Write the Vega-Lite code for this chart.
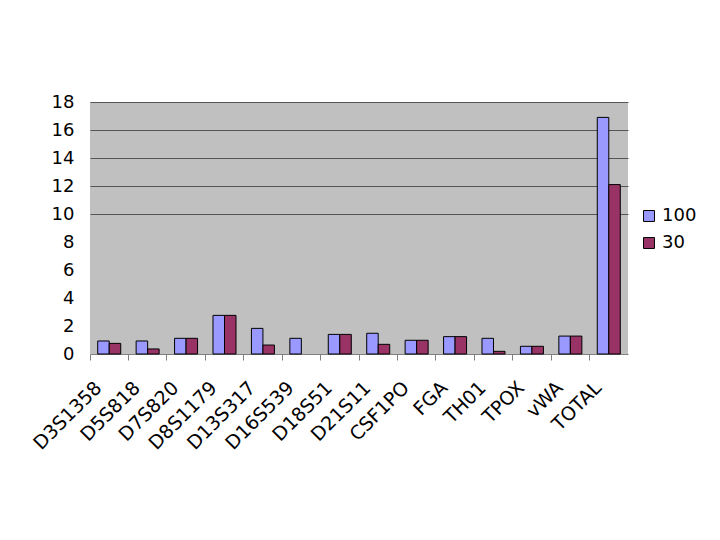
{
  "$schema": "https://vega.github.io/schema/vega-lite/v6.json",
  "autosize": "none",
  "width": 538,
  "height": 252,
  "padding": {"left": 90, "top": 102, "right": 92, "bottom": 186},
  "background": "white",
  "config": {"view": {"fill": "#C0C0C0", "stroke": null}, "font": "DejaVu Sans"},
  "data": {"values": [
    {"locus": "D3S1358", "series": "100", "value": 0.93},
    {"locus": "D3S1358", "series": "30", "value": 0.76},
    {"locus": "D5S818", "series": "100", "value": 0.93},
    {"locus": "D5S818", "series": "30", "value": 0.36},
    {"locus": "D7S820", "series": "100", "value": 1.12},
    {"locus": "D7S820", "series": "30", "value": 1.12},
    {"locus": "D8S1179", "series": "100", "value": 2.76},
    {"locus": "D8S1179", "series": "30", "value": 2.76},
    {"locus": "D13S317", "series": "100", "value": 1.83},
    {"locus": "D13S317", "series": "30", "value": 0.64},
    {"locus": "D16S539", "series": "100", "value": 1.12},
    {"locus": "D18S51", "series": "100", "value": 1.4},
    {"locus": "D18S51", "series": "30", "value": 1.4},
    {"locus": "D21S11", "series": "100", "value": 1.48},
    {"locus": "D21S11", "series": "30", "value": 0.69},
    {"locus": "CSF1PO", "series": "100", "value": 0.98},
    {"locus": "CSF1PO", "series": "30", "value": 0.98},
    {"locus": "FGA", "series": "100", "value": 1.24},
    {"locus": "FGA", "series": "30", "value": 1.24},
    {"locus": "TH01", "series": "100", "value": 1.12},
    {"locus": "TH01", "series": "30", "value": 0.19},
    {"locus": "TPOX", "series": "100", "value": 0.55},
    {"locus": "TPOX", "series": "30", "value": 0.55},
    {"locus": "vWA", "series": "100", "value": 1.28},
    {"locus": "vWA", "series": "30", "value": 1.28},
    {"locus": "TOTAL", "series": "100", "value": 16.9},
    {"locus": "TOTAL", "series": "30", "value": 12.1}
  ]},
  "mark": {"type": "bar", "stroke": "black", "strokeWidth": 1},
  "encoding": {
    "x": {
      "field": "locus", "type": "nominal",
      "sort": ["D3S1358","D5S818","D7S820","D8S1179","D13S317","D16S539","D18S51","D21S11","CSF1PO","FGA","TH01","TPOX","vWA","TOTAL"],
      "scale": {"paddingInner": 0, "paddingOuter": 0},
      "axis": {"title": null, "labelAngle": -45, "labelAlign": "right", "labelBaseline": "top", "labelFontSize": 19, "labelColor": "black", "bandPosition": 0, "labelOffset": -17, "ticks": true, "tickSize": 6, "tickColor": "#808080", "domainColor": "#808080", "labelPadding": 18, "grid": false}
    },
    "xOffset": {"field": "series", "type": "nominal", "scale": {"domain": ["100", "30"], "paddingOuter": 0.67, "paddingInner": 0}},
    "y": {
      "field": "value", "type": "quantitative",
      "scale": {"domain": [0, 18]},
      "axis": {"title": null, "values": [0,2,4,6,8,10,12,14,16,18], "domain": false, "ticks": false, "labelPadding": 16, "labelFontSize": 18, "labelColor": "black", "grid": true, "gridColor": "#555555", "gridOpacity": {"condition": {"test": "datum.value < 10", "value": 0}, "value": 1}}
    },
    "color": {
      "field": "series", "type": "nominal",
      "scale": {"domain": ["100", "30"], "range": ["#9999FF", "#993366"]},
      "legend": {"title": null, "orient": "none", "legendX": 550, "legendY": 105, "symbolType": "square", "symbolSize": 120, "symbolStrokeColor": "black", "symbolStrokeWidth": 1, "symbolOpacity": 1, "labelFontSize": 18, "labelColor": "black", "rowPadding": 9}
    }
  }
}
